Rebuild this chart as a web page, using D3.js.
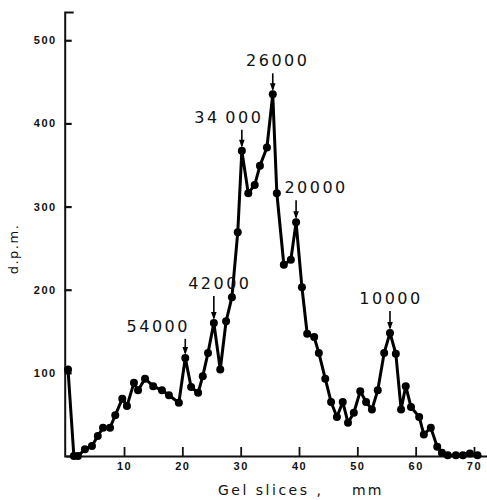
<!DOCTYPE html>
<html>
<head>
<meta charset="utf-8">
<script src="https://cdn.jsdelivr.net/npm/d3@7"></script>
<style>
  html, body { margin: 0; padding: 0; background: #fff; }
</style>
</head>
<body>
<div id="chart"></div>
<script>
// gel slice position (mm) and counts (d.p.m.)
const slices = [0.4, 1.4, 2.1, 3.3, 4.5, 5.5, 6.4, 7.6, 8.5, 9.7, 10.5, 11.7, 12.4, 13.6,
  15.0, 16.5, 17.7, 19.4, 20.5, 21.5, 22.7, 23.5, 24.4, 25.4, 26.5, 27.5, 28.5, 29.5,
  30.2, 31.3, 32.4, 33.3, 34.5, 35.5, 36.2, 37.4, 38.6, 39.5, 40.5, 41.4, 42.6, 43.4,
  44.5, 45.5, 46.5, 47.5, 48.4, 49.4, 50.5, 51.5, 52.5, 53.5, 54.6, 55.6, 56.6, 57.5,
  58.3, 59.2, 60.6, 61.4, 62.6, 63.7, 64.5, 65.5, 66.9, 68.1, 69.3, 70.6];
const dpm = [104, 0, 0, 8, 12, 24, 34, 34, 49, 69, 60, 88, 79, 93,
  84, 79, 73, 64, 118, 83, 76, 96, 124, 160, 104, 162, 191, 269,
  367, 316, 326, 349, 371, 435, 316, 230, 236, 281, 203, 147, 143, 124,
  93, 65, 47, 65, 40, 52, 78, 65, 56, 79, 124, 148, 123, 56,
  84, 59, 47, 26, 34, 11, 4, 1, 1, 1, 3, 1];

// molecular weight markers and the slice each arrow points at
const markerLabels = ["54000", "42000", "34\u2009000", "26000", "20000", "10000"];
const markerIndex = [18, 23, 28, 33, 37, 53];

const xTicks = [10, 20, 30, 40, 50, 60, 70];
const yTicks = [100, 200, 300, 400, 500];

const width = 487;
const height = 500;

const svg = d3.select("#chart")
  .append("svg")
  .attr("width", width)
  .attr("height", height)
  .style("font-family", "'DejaVu Sans', sans-serif");

const x = d3.scaleLinear().domain([0, 72.3]).range([65.7, 487.4]);
const y = d3.scaleLinear().domain([0, 534]).range([456, 12]);

// y axis, ticks pointing inward, cap at the top
const yAxis = svg.append("g")
  .attr("transform", `translate(${x(0) - 1},0)`)
  .call(d3.axisLeft(y).tickValues(yTicks).tickSizeInner(-7).tickSizeOuter(-9).tickPadding(8));
yAxis.select(".domain").attr("stroke", "#111").attr("stroke-width", 2);
yAxis.selectAll(".tick line").attr("stroke", "#111").attr("stroke-width", 2.2);
yAxis.selectAll(".tick text")
  .attr("fill", "#111")
  .style("font-size", "11px")
  .style("font-weight", "bold")
  .style("letter-spacing", "1.5px");

// x axis, ticks pointing up
const xAxis = svg.append("g")
  .attr("transform", `translate(0,${y(0)})`)
  .call(d3.axisBottom(x).tickValues(xTicks).tickSizeInner(-9).tickSizeOuter(0).tickPadding(6));
xAxis.select(".domain").attr("stroke", "#111").attr("stroke-width", 2);
xAxis.selectAll(".tick line").attr("stroke", "#111").attr("stroke-width", 1.8);
xAxis.selectAll(".tick text")
  .attr("fill", "#111")
  .style("font-size", "11px")
  .style("font-weight", "bold")
  .style("letter-spacing", "1.5px");

// axis titles
svg.append("text")
  .attr("transform", `translate(18,249) rotate(-90)`)
  .attr("text-anchor", "middle")
  .attr("fill", "#111")
  .style("font-size", "13px")
  .style("letter-spacing", "1.5px")
  .text("d.p.m.");

svg.append("text")
  .attr("x", 218)
  .attr("y", 495)
  .attr("fill", "#111")
  .style("font-size", "14px")
  .style("letter-spacing", "2.5px")
  .text("Gel slices ,");

svg.append("text")
  .attr("x", 352)
  .attr("y", 495)
  .attr("fill", "#111")
  .style("font-size", "14px")
  .style("letter-spacing", "2px")
  .text("mm");

// profile line and dots
const points = slices.map((s, i) => ({ s, v: dpm[i] }));

svg.append("path")
  .datum(points)
  .attr("fill", "none")
  .attr("stroke", "#000")
  .attr("stroke-width", 3)
  .attr("stroke-linejoin", "round")
  .attr("d", d3.line().x(d => x(d.s)).y(d => y(d.v)));

svg.append("g")
  .selectAll("circle")
  .data(points)
  .join("circle")
  .attr("cx", d => x(d.s))
  .attr("cy", d => y(d.v))
  .attr("r", 4)
  .attr("fill", "#000");

// marker arrows and labels
const labelShift = [[-27, -26], [6, -34], [-13, -28], [5, -28], [20, -29], [1, -29]];
markerIndex.forEach((idx, k) => {
  const px = x(slices[idx]);
  const py = y(dpm[idx]);
  const top = py + labelShift[k][1] + 7;
  svg.append("line")
    .attr("x1", px).attr("x2", px)
    .attr("y1", top).attr("y2", py - 5)
    .attr("stroke", "#000")
    .attr("stroke-width", 1.6);
  svg.append("path")
    .attr("d", `M${px - 2.8},${py - 11} L${px + 2.8},${py - 11} L${px},${py - 3} Z`)
    .attr("fill", "#000");
  svg.append("text")
    .attr("x", px + labelShift[k][0])
    .attr("y", py + labelShift[k][1])
    .attr("text-anchor", "middle")
    .attr("fill", "#111")
    .style("font-size", "16px")
    .style("letter-spacing", "2.5px")
    .text(markerLabels[k]);
});
</script>
</body>
</html>
